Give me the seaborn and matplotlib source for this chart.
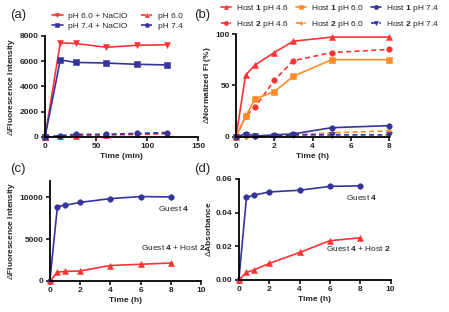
import numpy as np
import pandas as pd
import matplotlib
matplotlib.use("Agg")
import matplotlib.pyplot as plt
import seaborn as sns

sns.set_style("ticks")
plt.rcParams['font.family'] = ['Liberation Sans', 'DejaVu Sans']
plt.rcParams['mathtext.fontset'] = 'custom'
plt.rcParams['mathtext.rm'] = 'Liberation Sans'
plt.rcParams['mathtext.bf'] = 'Liberation Sans:bold'
plt.rcParams['mathtext.it'] = 'Liberation Sans:italic'

RED = '#FF3333'
BLUE = '#34349C'
ORANGE = '#FF8C26'

# ---- Panel (a) data ----
a_time = [0, 15, 30, 60, 90, 120]
a_ph60_naclo = [0, 7450, 7400, 7100, 7250, 7300]
a_ph74_naclo = [0, 6100, 5900, 5850, 5750, 5700]
a_ph60 = [0, 40, 90, 150, 200, 260]
a_ph74 = [0, 110, 200, 210, 280, 350]
a_xticks = [0, 50, 100, 150]
a_yticks = [0, 2000, 4000, 6000, 8000]

# ---- Panel (b) data ----
b_time = [0, 0.5, 1, 2, 3, 5, 8]
b_h1_46 = [0, 60, 70, 82, 93, 97, 97]
b_h2_46 = [0, 20, 29, 55, 74, 82, 85]
b_h1_60 = [0, 20, 37, 44, 59, 75, 75]
b_h2_60 = [0, 0, 1, 1, 2, 4, 6]
b_h1_74 = [0, 3, 1, 2, 3, 9, 11]
b_h2_74 = [0, 2, 1, 1, 2, 2, 2]
b_xticks = [0, 2, 4, 6, 8]
b_yticks = [0, 50, 100]

# ---- Panel (c) data ----
c_time = [0, 0.5, 1, 2, 4, 6, 8]
c_guest = [0, 8900, 9050, 9400, 9850, 10100, 10050]
c_guest_host = [0, 1050, 1150, 1200, 1850, 2000, 2150]
c_xticks = [0, 2, 4, 6, 8, 10]
c_yticks = [0, 5000, 10000]

# ---- Panel (d) data ----
d_time = [0, 0.5, 1, 2, 4, 6, 8]
d_guest = [0, 0.049, 0.0503, 0.0522, 0.0532, 0.0555, 0.0558]
d_guest_host = [0, 0.0045, 0.006, 0.0098, 0.0163, 0.0233, 0.0250]
d_xticks = [0, 2, 4, 6, 8, 10]
d_yticks = [0.00, 0.02, 0.04, 0.06]

FS = 6.0

fig = plt.figure(figsize=(4.49, 3.12), dpi=100)
ax_a = fig.add_axes([0.1002, 0.561, 0.341, 0.324])
ax_b = fig.add_axes([0.5256, 0.561, 0.3408, 0.330])
ax_c = fig.add_axes([0.111, 0.0994, 0.337, 0.3216])
ax_d = fig.add_axes([0.532, 0.1026, 0.338, 0.3244])


def line(ax, x, y, color, marker, ls, label=None, ms=4.0):
    df = pd.DataFrame({'x': x, 'y': y})
    sns.lineplot(data=df, x='x', y='y', ax=ax, color=color, marker=marker,
                 markersize=ms, markeredgewidth=0.4, markeredgecolor=color,
                 linewidth=1.2, linestyle=ls, clip_on=False,
                 legend=False, errorbar=None)
    ln = ax.lines[-1]
    ln.set_label(label)
    if ls != '-':
        ln.set_dashes((3, 2))
    return ln


def style_ax(ax, xlim, ylim, xticks, yticks, xlabel, ylabel, yfmt=None):
    ax.set_xlim(*xlim)
    ax.set_ylim(*ylim)
    ax.set_xticks(xticks)
    ax.set_yticks(yticks)
    if yfmt:
        ax.set_yticklabels([yfmt.format(v) for v in yticks])
    ax.set_xlabel(xlabel, fontsize=FS, fontweight='bold', labelpad=2)
    ax.set_ylabel(ylabel, fontsize=FS, fontweight='bold', labelpad=2)
    for lab in ax.get_xticklabels() + ax.get_yticklabels():
        lab.set_fontweight('bold')
        lab.set_fontsize(FS)
    ax.tick_params(width=1.1, length=3, pad=1.5, color='black')
    for s in ['left', 'bottom']:
        ax.spines[s].set_linewidth(1.3)
        ax.spines[s].set_color('black')
    sns.despine(ax=ax)


# Panel (a)
h = []
h.append(line(ax_a, a_time, a_ph60_naclo, RED, 'v', '-', 'pH 6.0 + NaClO'))
h.append(line(ax_a, a_time, a_ph74_naclo, BLUE, 's', '-', 'pH 7.4 + NaClO'))
h.append(line(ax_a, a_time, a_ph60, RED, '^', '--', 'pH 6.0'))
h.append(line(ax_a, a_time, a_ph74, BLUE, 'o', '--', 'pH 7.4'))
style_ax(ax_a, (0, 150), (0, 8000), a_xticks, a_yticks, 'Time (min)',
         r'$\Delta$Fluorescence Intensity')
fig.legend(handles=h, labels=[l.get_label() for l in h], ncol=2,
           loc='upper left', bbox_to_anchor=(0.108, 0.972), frameon=False,
           fontsize=FS, handlelength=1.3, handletextpad=0.7,
           columnspacing=1.6, labelspacing=0.3, borderaxespad=0,
           markerscale=0.75)

# Panel (b)
h = []
h.append(line(ax_b, b_time, b_h1_46, RED, '^', '-', r'Host $\mathbf{1}$ pH 4.6'))
h.append(line(ax_b, b_time, b_h2_46, RED, 'o', '--', r'Host $\mathbf{2}$ pH 4.6'))
h.append(line(ax_b, b_time, b_h1_60, ORANGE, 's', '-', r'Host $\mathbf{1}$ pH 6.0'))
h.append(line(ax_b, b_time, b_h2_60, ORANGE, 'P', '--', r'Host $\mathbf{2}$ pH 6.0', ms=3.2))
h.append(line(ax_b, b_time, b_h1_74, BLUE, 'o', '-', r'Host $\mathbf{1}$ pH 7.4'))
h.append(line(ax_b, b_time, b_h2_74, BLUE, 'v', '--', r'Host $\mathbf{2}$ pH 7.4'))
style_ax(ax_b, (0, 8), (0, 100), b_xticks, b_yticks, 'Time (h)',
         r'$\Delta$Normalized FI (%)')
fig.legend(handles=h, labels=[l.get_label() for l in h], ncol=3,
           loc='upper left', bbox_to_anchor=(0.484, 1.0), frameon=False,
           fontsize=FS, handlelength=1.3, handletextpad=0.6,
           columnspacing=0.75, labelspacing=0.55, borderaxespad=0,
           markerscale=0.75)

# Panel (c)
line(ax_c, c_time, c_guest, BLUE, 'o', '-')
line(ax_c, c_time, c_guest_host, RED, '^', '-')
style_ax(ax_c, (0, 10), (0, 12000), c_xticks, c_yticks, 'Time (h)',
         r'$\Delta$Fluorescence Intensity')
ax_c.text(7.17, 8700, r'Guest $\mathbf{4}$', fontsize=FS, va='center', ha='left')
ax_c.text(6.0, 3980, r'Guest $\mathbf{4}$ + Host $\mathbf{2}$', fontsize=FS,
          va='center', ha='left', clip_on=False)

# Panel (d)
line(ax_d, d_time, d_guest, BLUE, 'o', '-')
line(ax_d, d_time, d_guest_host, RED, '^', '-')
style_ax(ax_d, (0, 10), (0, 0.06), d_xticks, d_yticks, 'Time (h)',
         r'$\Delta$Absorbance', yfmt='{:.2f}')
ax_d.text(7.06, 0.049, r'Guest $\mathbf{4}$', fontsize=FS, va='center', ha='left')
ax_d.text(5.74, 0.0184, r'Guest $\mathbf{4}$ + Host $\mathbf{2}$', fontsize=FS,
          va='center', ha='left', clip_on=False)

# Panel labels
for lab, (x, y) in zip(['(a)', '(b)', '(c)', '(d)'],
                       [(0.022, 0.952), (0.432, 0.952), (0.022, 0.457), (0.432, 0.457)]):
    fig.text(x, y, lab, fontsize=9.5, ha='left', va='center')

fig.savefig('out.png', dpi=100)
